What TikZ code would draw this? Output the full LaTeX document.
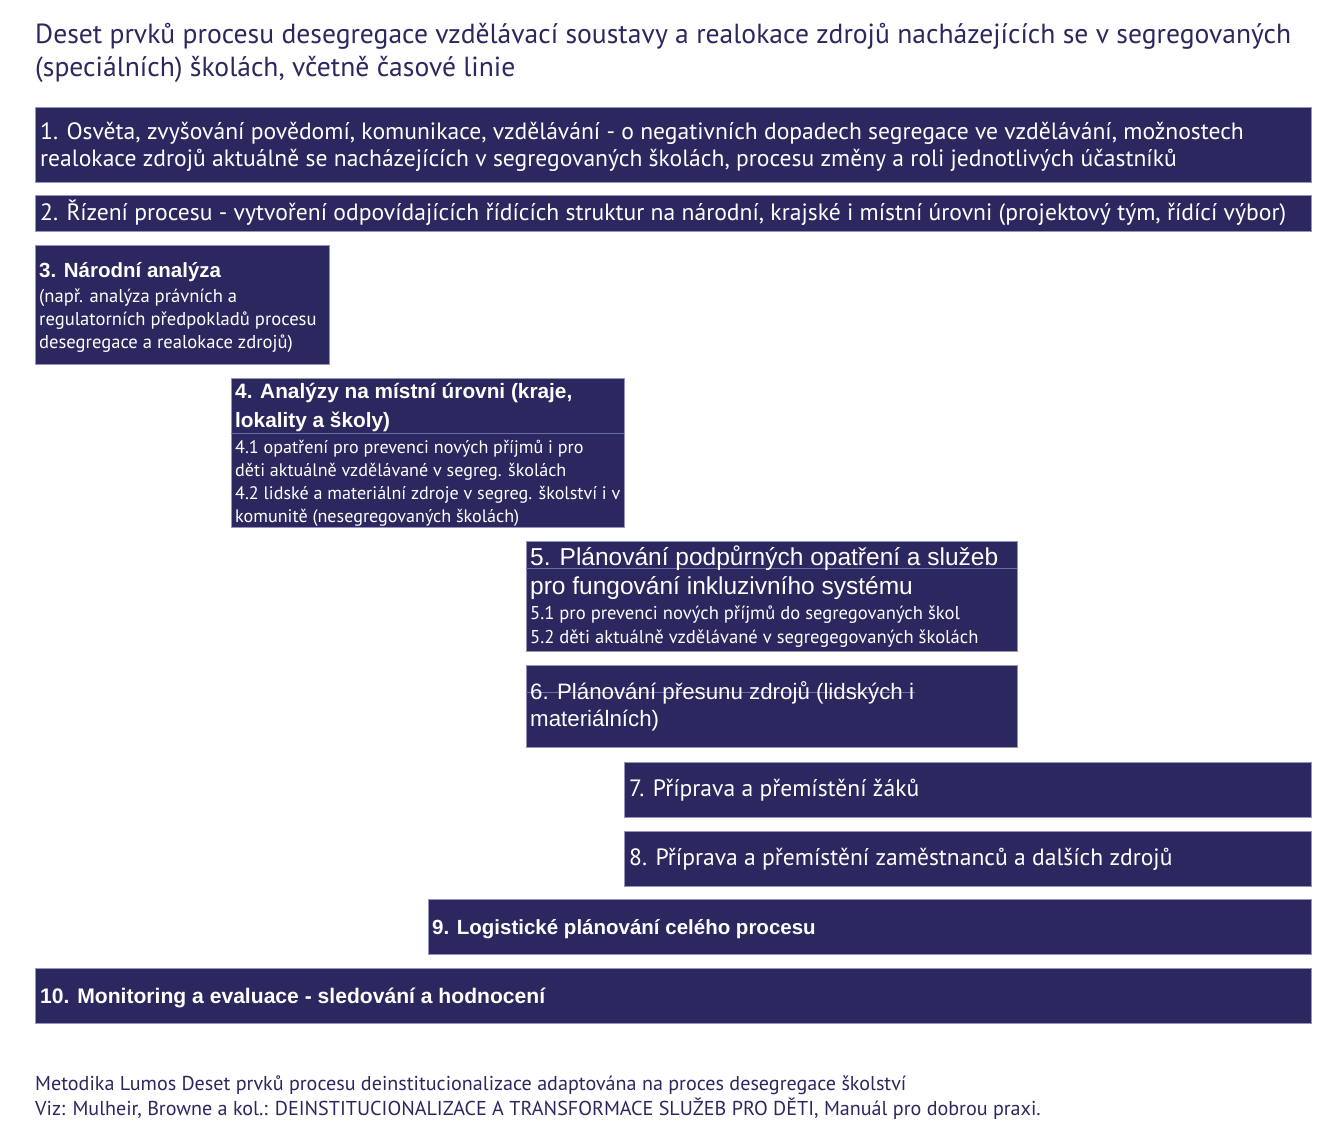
\documentclass[tikz,border=0pt]{standalone}
\usepackage{fontspec}
\setmainfont{PT Sans}
\newfontfamily\arialf{Liberation Sans}
\definecolor{navy}{RGB}{43,40,96}
\definecolor{edgec}{RGB}{150,148,190}
\definecolor{sepc}{RGB}{110,108,165}
\begin{document}
\begin{tikzpicture}[x=1pt,y=-1pt,
  box/.style={draw=edgec, line width=0.7pt, fill=navy, rectangle, inner sep=0pt, outer sep=0pt, anchor=north west},
  sepline/.style={draw=sepc, line width=0.6pt},
  ln/.style={text=white, anchor=base west, inner sep=0pt, font=\fontsize{23.6}{28}\selectfont},
  sub/.style={text=white, anchor=base west, inner sep=0pt, font=\fontsize{18.6}{22}\selectfont},
  subs/.style={sub, font=\fontsize{18.1}{22}\selectfont},
  hdb/.style={text=white, anchor=base west, inner sep=0pt, font=\arialf\bfseries\fontsize{20.5}{24}\selectfont},
  hd/.style={text=white, anchor=base west, inner sep=0pt, font=\arialf\fontsize{22.3}{26}\selectfont},
  ttl/.style={text=navy, anchor=base west, inner sep=0pt, font=\fontsize{27.6}{32}\selectfont},
  foot/.style={text=navy, anchor=base west, inner sep=0pt, font=\fontsize{20.1}{24}\selectfont}]
\useasboundingbox[fill=white] (0,0) rectangle (1340,1136);

\node[ttl] (t1) at (35,43) {Deset prvků procesu desegregace vzdělávací soustavy a realokace zdrojů nacházejících se v segregovaných};
\node[ttl] (t2) at (35,76) {(speciálních) školách, včetně časové linie};

\node[box, minimum width=1276pt, minimum height=75pt] (b1) at (35,107) {};
\node[ln] (b1a) at (40,139) {1. Osvěta, zvyšování povědomí, komunikace, vzdělávání - o negativních dopadech segregace ve vzdělávání, možnostech};
\node[ln] (b1b) at (40,166) {realokace zdrojů aktuálně se nacházejících v segregovaných školách, procesu změny a roli jednotlivých účastníků};

\node[box, minimum width=1276pt, minimum height=36pt] (b2) at (35,195) {};
\node[ln] (b2a) at (40,220) {2. Řízení procesu - vytvoření odpovídajících řídících struktur na národní, krajské i místní úrovni (projektový tým, řídící výbor)};

\node[box, minimum width=294pt, minimum height=119pt] (b3) at (35,245) {};
\node[hdb] (b3h) at (39,277) {3. Národní analýza};
\node[sub] (b3a) at (39,302) {(např. analýza právních a};
\node[sub] (b3b) at (39,325) {regulatorních předpokladů procesu};
\node[sub] (b3c) at (39,348) {desegregace a realokace zdrojů)};

\node[box, minimum width=393pt, minimum height=149pt] (b4) at (231,378) {};
\draw[sepline] (231,433) -- (624,433);
\node[hdb, font=\arialf\bfseries\fontsize{20.8}{24}\selectfont] (b4h1) at (235,398) {4. Analýzy na místní úrovni (kraje,};
\node[hdb, font=\arialf\bfseries\fontsize{20.8}{24}\selectfont] (b4h2) at (235,427) {lokality a školy)};
\node[subs] (b4a) at (235,453) {4.1 opatření pro prevenci nových příjmů i pro};
\node[subs] (b4b) at (235,476) {děti aktuálně vzdělávané v segreg. školách};
\node[subs] (b4c) at (235,499) {4.2 lidské a materiální zdroje v segreg. školství i v};
\node[subs] (b4d) at (235,522) {komunitě (nesegregovaných školách)};

\node[box, minimum width=491pt, minimum height=110pt] (b5) at (526,541) {};
\draw[sepline] (526,568) -- (1017,568);
\node[hd, font=\arialf\fontsize{24.5}{28}\selectfont] (b5h1) at (530,565) {5. Plánování podpůrných opatření a služeb};
\node[hd, font=\arialf\fontsize{24.5}{28}\selectfont] (b5h2) at (530,594) {pro fungování inkluzivního systému};
\node[sub] (b5a) at (530,619) {5.1 pro prevenci nových příjmů do segregovaných škol};
\node[sub] (b5b) at (530,643) {5.2 děti aktuálně vzdělávané v segregegovaných školách};

\node[box, minimum width=491pt, minimum height=82pt] (b6) at (526,665) {};
\draw[sepline] (526,692) -- (915,692);
\node[hd] (b6h1) at (530,699) {6. Plánování přesunu zdrojů (lidských i};
\node[hd] (b6h2) at (530,726) {materiálních)};

\node[box, minimum width=687pt, minimum height=55pt] (b7) at (624,762) {};
\node[ln] (b7a) at (629,796) {7. Příprava a přemístění žáků};

\node[box, minimum width=687pt, minimum height=55pt] (b8) at (624,831) {};
\node[ln] (b8a) at (629,865) {8. Příprava a přemístění zaměstnanců a dalších zdrojů};

\node[box, minimum width=883pt, minimum height=55pt] (b9) at (428,899) {};
\node[hdb] (b9a) at (432,934) {9. Logistické plánování celého procesu};

\node[box, minimum width=1276pt, minimum height=55pt] (b10) at (35,968) {};
\node[hdb, font=\arialf\bfseries\fontsize{21.1}{25}\selectfont] (b10a) at (40,1003) {10. Monitoring a evaluace - sledování a hodnocení};

\node[foot] (f1) at (35,1090) {Metodika Lumos Deset prvků procesu deinstitucionalizace adaptována na proces desegregace školství};
\node[foot] (f2) at (35,1115) {Viz: Mulheir, Browne a kol.: DEINSTITUCIONALIZACE A TRANSFORMACE SLUŽEB PRO DĚTI, Manuál pro dobrou praxi.};
\end{tikzpicture}
\end{document}
